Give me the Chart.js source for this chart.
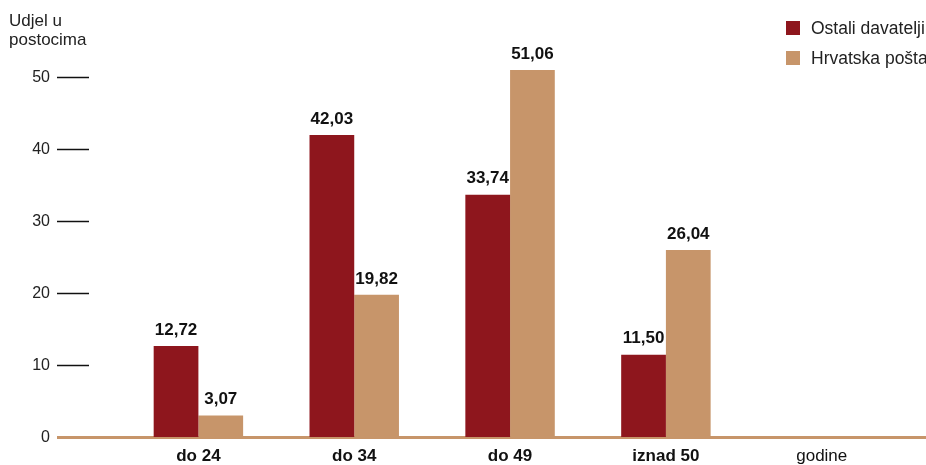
<!DOCTYPE html>
<html>
<head>
<meta charset="utf-8">
<script src="https://cdn.jsdelivr.net/npm/chart.js@4/dist/chart.umd.min.js"></script>
<style>
    html, body { margin: 0; padding: 0; background: #fff; overflow: hidden; }
    #wrap { position: relative; width: 926px; height: 465px; }
    #chartRef { position: absolute; left: 0; top: 0; }
    .caption {
        position: absolute; left: 9px; top: 12px;
        font: 17px "Liberation Sans", Arial, sans-serif; line-height: 18.5px; color: #222;
    }
    #legendRef { position: absolute; left: 786px; top: 13px; white-space: nowrap; }
    .legend-row {
        height: 30px; display: flex; align-items: center;
        font: 17.5px "Liberation Sans", Arial, sans-serif; color: #222;
    }
    .legend-box { width: 14px; height: 14px; margin-right: 11px; flex: none; }
</style>
</head>
<body>
<div id="wrap">
    <canvas id="chartRef" width="926" height="465"></canvas>
    <div class="caption">Udjel u<br>postocima</div>
    <div id="legendRef"></div>
</div>
<script>
const categories = ["do 24", "do 34", "do 49", "iznad 50", "godine"];
const ostaliValues = [12.72, 42.03, 33.74, 11.5];
const postaValues = [3.07, 19.82, 51.06, 26.04];
const yTicks = [0, 10, 20, 30, 40, 50];
const seriesNames = ["Ostali davatelji", "Hrvatska pošta"];
const seriesColors = ["#8E161D", "#C7956A"];

document.addEventListener("DOMContentLoaded", () => {
    const chartRef = document.getElementById("chartRef");
    const legendRef = document.getElementById("legendRef");
    const seriesValues = [ostaliValues, postaValues];

    const fmt = (v) => v.toFixed(2).replace(".", ",");

    // value labels above each bar
    const barLabels = {
        id: "barLabels",
        afterDatasetsDraw(chart) {
            const ctx = chart.ctx;
            ctx.save();
            ctx.font = "bold 17px 'Liberation Sans', Arial, sans-serif";
            ctx.fillStyle = "#111";
            ctx.textAlign = "center";
            ctx.textBaseline = "middle";
            chart.data.datasets.forEach((ds, di) => {
                chart.getDatasetMeta(di).data.forEach((bar, i) => {
                    ctx.fillText(fmt(ds.data[i].y), bar.x, bar.y - 16);
                });
            });
            ctx.restore();
        },
    };

    const chart = new Chart(chartRef.getContext("2d"), {
        type: "bar",
        data: {
            datasets: seriesNames.map((name, s) => ({
                label: name,
                data: seriesValues[s].map((v, i) => ({ x: i, y: v })),
                backgroundColor: seriesColors[s],
                borderWidth: 0,
                categoryPercentage: 0.574,
                barPercentage: 1,
            })),
        },
        options: {
            responsive: false,
            animation: false,
            layout: { padding: { top: 20, left: 0, right: 0, bottom: 0 } },
            plugins: {
                legend: { display: false },
                title: { display: false },
                tooltip: { enabled: false },
            },
            scales: {
                x: {
                    type: "linear",
                    min: -0.702,
                    max: 4.669,
                    offset: false,
                    z: 1,
                    afterBuildTicks: (scale) => {
                        scale.ticks = scale.ticks.filter(
                            (t) => Number.isInteger(t.value) && t.value >= 0 && t.value < categories.length
                        );
                    },
                    afterFit: (scale) => { scale.height = 27.5; },
                    grid: { display: true, drawOnChartArea: false, drawTicks: false },
                    border: { display: true, color: "#C7956A", width: 3 },
                    ticks: {
                        stepSize: 1,
                        autoSkip: false,
                        maxRotation: 0,
                        padding: 9,
                        color: "#111",
                        font: (c) => ({
                            family: "'Liberation Sans', Arial, sans-serif",
                            size: 17,
                            weight: c.tick && c.tick.value === categories.length - 1 ? "normal" : "bold",
                        }),
                        callback: (v) => categories[v] ?? "",
                    },
                },
                y: {
                    min: 0,
                    max: 58,
                    afterBuildTicks: (scale) => {
                        scale.ticks = yTicks.map((v) => ({ value: v }));
                    },
                    afterFit: (scale) => { scale.width = 89; },
                    grid: {
                        display: true,
                        drawOnChartArea: false,
                        drawTicks: true,
                        tickLength: 32,
                        tickColor: (c) => (c.tick && c.tick.value === 0 ? "#C7956A" : "#111"),
                        tickWidth: (c) => (c.tick && c.tick.value === 0 ? 3 : 1.5),
                    },
                    border: { display: false },
                    ticks: {
                        padding: 7,
                        color: "#222",
                        font: { family: "'Liberation Sans', Arial, sans-serif", size: 16 },
                    },
                },
            },
        },
        plugins: [barLabels],
    });

    // legend
    chart.data.datasets.forEach((ds) => {
        const row = document.createElement("div");
        row.className = "legend-row";
        const box = document.createElement("span");
        box.className = "legend-box";
        box.style.background = ds.backgroundColor;
        row.appendChild(box);
        row.appendChild(document.createTextNode(ds.label));
        legendRef.appendChild(row);
    });
});
</script>
</body>
</html>
